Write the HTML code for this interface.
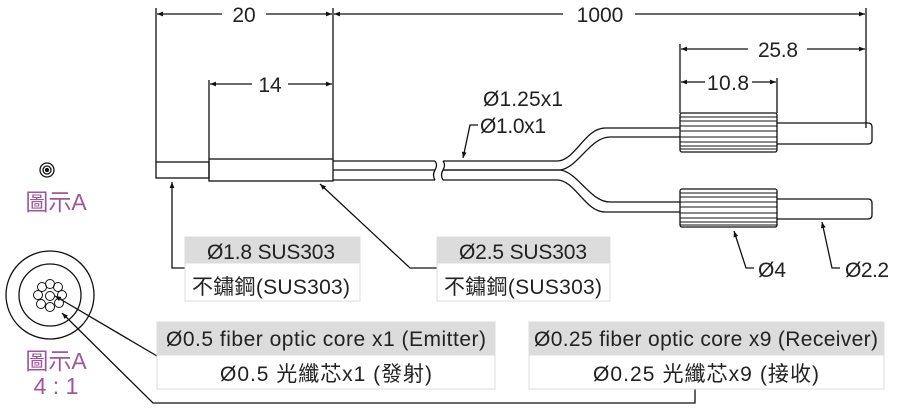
<!DOCTYPE html>
<html><head><meta charset="utf-8"><style>
html,body{margin:0;padding:0;background:#fff}
svg{display:block}
text{font-family:"Liberation Sans","Noto Sans CJK TC",sans-serif;fill:#222}
</style></head><body>
<svg width="900" height="409" viewBox="0 0 900 409">
<defs>
<marker id="a" viewBox="0 0 10 10" refX="10" refY="5" markerWidth="10" markerHeight="6" orient="auto-start-reverse" markerUnits="userSpaceOnUse"><path d="M0,1 L10,5 L0,9 z" fill="#111"/></marker>
</defs>
<g stroke="#111" stroke-width="1.3" fill="none">
<line x1="156" y1="8" x2="156" y2="162"/>
<line x1="333" y1="8" x2="333" y2="159"/>
<line x1="866" y1="8" x2="866" y2="128"/>
<line x1="209" y1="80" x2="209" y2="159"/>
<line x1="680" y1="44" x2="680" y2="113"/>
<line x1="777" y1="78" x2="777" y2="113"/>
<line x1="157" y1="14" x2="222" y2="14" marker-start="url(#a)"/>
<line x1="266" y1="14" x2="332" y2="14" marker-end="url(#a)"/>
<line x1="334" y1="14" x2="563" y2="14" marker-start="url(#a)"/>
<line x1="635" y1="14" x2="865" y2="14" marker-end="url(#a)"/>
<line x1="210" y1="84" x2="252" y2="84" marker-start="url(#a)"/>
<line x1="288" y1="84" x2="332" y2="84" marker-end="url(#a)"/>
<line x1="681" y1="49" x2="748" y2="49" marker-start="url(#a)"/>
<line x1="807" y1="49" x2="865" y2="49" marker-end="url(#a)"/>
<line x1="681" y1="82" x2="705" y2="82" marker-start="url(#a)"/>
<line x1="752" y1="82" x2="776" y2="82" marker-end="url(#a)"/>
<rect x="156" y="162" width="53" height="16"/>
<rect x="209" y="159" width="124" height="22"/>
<path d="M333,161 H435 M333,170 H435 M333,180 H435"/>
<path d="M435,161 q3,4 0,9 q-3,5 0,10 M443,161 q3,4 0,9 q-3,5 0,10"/>
<path d="M443,161 H557 C575,161 585,128 605,128 H680"/>
<path d="M443,170 H560 C578,168 590,137 610,137 H680"/>
<path d="M443,170 H560 C578,172 590,202 610,202 H680"/>
<path d="M443,180 H557 C575,180 585,212 605,212 H680"/>
<rect x="680" y="113" width="97" height="39" rx="2"/>
<path d="M680,117 H777 M680,121 H777 M680,126 H777 M680,131 H777 M680,137 H777 M680,142 H777 M680,146 H777 M680,149 H777" stroke-width="0.9"/>
<rect x="680" y="189" width="97" height="38" rx="2"/>
<path d="M680,193 H777 M680,197 H777 M680,202 H777 M680,207 H777 M680,213 H777 M680,218 H777 M680,222 H777 M680,225 H777" stroke-width="0.9"/>
<path d="M777,123 H868 q4,0 4,4 v13 q0,4 -4,4 H777"/>
<path d="M777,199 H868 q4,0 4,4 v12 q0,4 -4,4 H777"/>
<path d="M478,125 H470 L463,158" marker-end="url(#a)"/>
<path d="M754,268 H746 L734,231" marker-end="url(#a)"/>
<path d="M840,268 H832 L822,222" marker-end="url(#a)"/>
<path d="M185,268 H172 V182" marker-end="url(#a)"/>
<path d="M437,268 H410 L320,184" marker-end="url(#a)"/>
<circle cx="47" cy="170" r="7"/>
<circle cx="47" cy="170" r="4"/>
<circle cx="47" cy="170" r="1.5" fill="#111"/>
<circle cx="50" cy="295" r="44"/>
<circle cx="50" cy="295" r="31"/>
<g stroke-width="1">
<circle cx="50" cy="284" r="4.5"/><circle cx="58" cy="287" r="4.5"/><circle cx="62" cy="295" r="4.5"/>
<circle cx="59" cy="303" r="4.5"/><circle cx="50" cy="307" r="4.5"/><circle cx="41" cy="304" r="4.5"/>
<circle cx="38" cy="295" r="4.5"/><circle cx="42" cy="287" r="4.5"/><circle cx="50" cy="296" r="4.5"/>
</g>
<path d="M157,356 L55,296" marker-end="url(#a)"/>
<path d="M695,389 V403 H153 L62,313" marker-end="url(#a)"/>
</g>
<g stroke="#ddd" stroke-width="1">
<rect x="185" y="237" width="175" height="26" fill="#dcdcdc"/>
<rect x="185" y="263" width="175" height="38" fill="#fff"/>
<rect x="437" y="237" width="173" height="26" fill="#dcdcdc"/>
<rect x="437" y="263" width="173" height="38" fill="#fff"/>
<rect x="157" y="322" width="338" height="33" fill="#dcdcdc"/>
<rect x="157" y="355" width="338" height="34" fill="#fff"/>
<rect x="529" y="322" width="355" height="33" fill="#dcdcdc"/>
<rect x="529" y="355" width="355" height="34" fill="#fff"/>
</g>
<g font-size="21" text-anchor="middle">
<text x="244" y="22">20</text>
<text x="600" y="22">1000</text>
<text x="270" y="92">14</text>
<text x="778" y="57" textLength="40">25.8</text>
<text x="728" y="90" textLength="42">10.8</text>
<text x="271" y="259" textLength="128">Ø1.8 SUS303</text>
<text x="271" y="294" textLength="158">不鏽鋼(SUS303)</text>
<text x="523" y="259" textLength="128">Ø2.5 SUS303</text>
<text x="523" y="294" textLength="158">不鏽鋼(SUS303)</text>
<text x="326" y="346" textLength="320">Ø0.5 fiber optic core x1 (Emitter)</text>
<text x="326" y="381" textLength="212">Ø0.5 光纖芯x1 (發射)</text>
<text x="706" y="346" textLength="344">Ø0.25 fiber optic core x9 (Receiver)</text>
<text x="706" y="381" textLength="226">Ø0.25 光纖芯x9 (接收)</text>
</g>
<g font-size="21">
<text x="483" y="106" textLength="80">Ø1.25x1</text>
<text x="480" y="133" textLength="66">Ø1.0x1</text>
<text x="758" y="277">Ø4</text>
<text x="845" y="277" textLength="44">Ø2.2</text>
</g>
<g font-size="23" text-anchor="middle">
<text x="56" y="210" style="fill:#a0569a">圖示A</text>
<text x="56" y="369" style="fill:#a0569a">圖示A</text>
<text x="56" y="394" style="fill:#a0569a">4 : 1</text>
</g>
</svg>
</body></html>
